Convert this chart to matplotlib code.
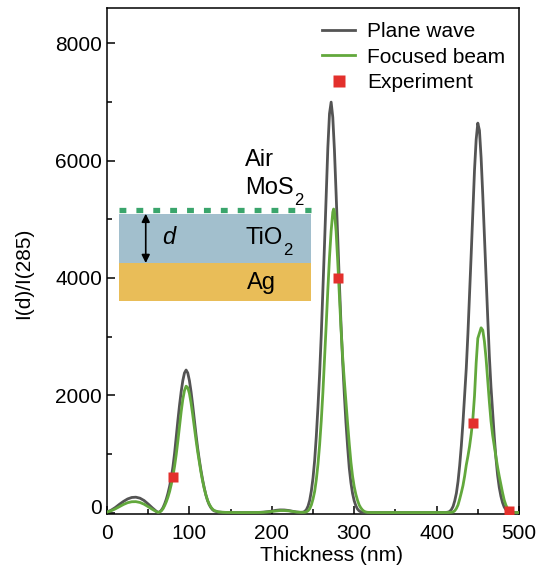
import matplotlib
matplotlib.use("Agg")
import matplotlib.pyplot as plt
from matplotlib.patches import Rectangle
from matplotlib.transforms import ScaledTranslation

plt.rcParams['font.family'] = ['Liberation Sans', 'DejaVu Sans']

# ---------------- data ----------------
thickness = [0, 5, 10, 15, 20, 25, 30, 35, 40, 45, 50, 55, 60,
             62, 64, 66, 68, 70, 72, 74, 76, 78, 80, 82, 84, 86, 88, 90, 92, 94, 96, 98,
             100, 102, 104, 106, 108, 110, 112, 114, 116, 118, 120, 122, 124, 126, 128, 130,
             135, 140, 145, 150, 155, 160, 165, 170, 175, 180, 185, 190, 195, 200, 205,
             210, 215, 220, 225, 230, 235,
             238, 240, 242, 244, 246, 248, 250, 252, 254, 256, 258, 260, 262, 264, 266,
             268, 270, 272, 274, 275, 276, 278, 280, 282, 284, 286, 288, 290, 292, 294,
             296, 298, 300, 302, 304, 306, 308, 310, 312, 314, 316,
             320, 325, 330, 335, 340, 345, 350, 355, 360, 365, 370, 375, 380, 385, 390,
             395, 400, 405, 410,
             412, 414, 416, 418, 420, 422, 424, 426, 428, 430, 432, 434, 436, 438, 440,
             442, 444, 446, 448, 450, 452, 454, 456, 458, 460, 462, 464, 466, 468, 470,
             472, 474, 476, 478, 480, 482, 484, 486, 488, 490, 492, 494, 496, 498, 500]

plane_wave = [10, 40, 85, 140, 190, 232, 257, 262, 245, 205, 145, 80, 20,
              2, 12, 40, 85, 150, 230, 330, 450, 600, 780, 1010, 1290, 1570, 1830, 2060, 2250, 2380, 2430, 2380,
              2250, 2060, 1830, 1580, 1330, 1100, 900, 720, 560, 420, 300, 205, 135, 85, 50, 28,
              10, 4, 2, 1, 0, 0, 0, 0, 0, 1, 3, 7, 15, 25, 38,
              45, 44, 36, 22, 9, 3,
              6, 20, 50, 110, 210, 370, 590, 890, 1300, 1800, 2360, 3020, 3780, 4585, 5430,
              6220, 6800, 6998, 6740, 6470, 6180, 5450, 4670, 3920, 3200, 2570, 2020, 1530, 1120, 760,
              510, 325, 200, 115, 60, 28, 12, 5, 2, 0, 0,
              0, 0, 0, 0, 0, 0, 0, 0, 0, 0, 0, 0, 0, 0, 0,
              0, 0, 0, 1,
              3, 8, 20, 52, 105, 200, 330, 530, 805, 1140, 1540, 1990, 2460, 3050, 3720,
              4415, 5145, 5840, 6360, 6640, 6515, 6050, 5420, 4715, 3995, 3335, 2670, 2140, 1710, 1290,
              930, 640, 430, 280, 170, 95, 50, 22, 9, 3, 1, 0, 0, 0, 0]

focused_beam = [8, 30, 62, 100, 138, 168, 184, 186, 172, 142, 100, 55, 14,
                3, 10, 30, 65, 120, 185, 265, 360, 480, 620, 790, 990, 1220, 1470, 1720, 1930, 2080, 2155, 2130,
                2030, 1870, 1670, 1450, 1240, 1040, 860, 690, 540, 410, 300, 210, 145, 95, 60, 35,
                12, 5, 2, 1, 0, 0, 0, 0, 0, 1, 2, 5, 11, 19, 28,
                34, 34, 29, 19, 9, 4,
                4, 5, 12, 30, 65, 130, 230, 360, 560, 820, 1150, 1560, 2050, 2620, 3200,
                3800, 4350, 4800, 5120, 5175, 5130, 4800, 4280, 3700, 3130, 2650, 2250, 1880, 1520, 1170,
                860, 620, 440, 310, 210, 130, 80, 45, 22, 10, 4,
                1, 0, 0, 0, 0, 0, 0, 0, 0, 0, 0, 0, 0, 0, 0,
                0, 0, 0, 0,
                0, 1, 2, 5, 10, 30, 70, 130, 230, 340, 460, 620, 810, 960, 1130,
                1340, 1600, 1990, 2550, 2970, 3060, 3150, 3110, 2920, 2630, 2260, 1890, 1560, 1320, 1130,
                950, 775, 620, 480, 340, 215, 130, 70, 35, 15, 5, 2, 0, 0, 0]

exp_thickness = [80, 280, 444.5, 488]
exp_values = [600, 4000, 1530, 25]

x_ticks = [0, 100, 200, 300, 400, 500]
y_ticks = [0, 2000, 4000, 6000, 8000]

# ---------------- figure ----------------
fig = plt.figure(figsize=(5.38, 5.70), dpi=100)
ax = fig.add_axes([0.1989, 0.0977, 0.7658, 0.888])

gray = '#545454'
green = '#62a83c'
red = '#e3302c'

ax.plot(thickness, plane_wave, color=gray, lw=2.0, label='Plane wave', zorder=3)
ax.plot(thickness, focused_beam, color=green, lw=2.0, label='Focused beam', zorder=4)
ax.plot(exp_thickness, exp_values, linestyle='none', marker='s', ms=6.5, color=red,
        mec='none', label='Experiment', zorder=5)

ax.set_xlim(0, 500)
ax.set_ylim(-30, 8600)
ax.set_xticks(x_ticks)
ax.set_yticks(y_ticks)
ax.set_xticks(range(0, 501, 50), minor=True)
ax.set_yticks(range(0, 8001, 1000), minor=True)
ax.tick_params(which='both', direction='in', top=False, right=False, labelsize=15, width=1.1)
ax.tick_params(which='major', length=6)
ax.tick_params(which='minor', length=3.5)
ax.tick_params(axis='x', pad=7)
for s in ax.spines.values():
    s.set_linewidth(1.1)

# raise the "0" y tick label slightly as in the reference
t0 = ax.yaxis.get_major_ticks()[0]
t0.label1.set_transform(t0.label1.get_transform() + ScaledTranslation(0, 4 / 72, fig.dpi_scale_trans))

ax.set_xlabel('Thickness (nm)', fontsize=15)
ax.set_ylabel('I(d)/I(285)', fontsize=15)
ax.xaxis.set_label_coords(0.544, -0.062)
ax.yaxis.set_label_coords(-0.18, 0.477)

leg = ax.legend(loc='upper left', bbox_to_anchor=(0.522, 0.972), frameon=False, fontsize=15,
                borderpad=0, borderaxespad=0, labelspacing=0.3, handlelength=1.6,
                handletextpad=0.55, markerscale=1.25)

# ---------------- inset schematic ----------------
ax.add_patch(Rectangle((14, 3611), 234, 643, facecolor='#e9bd58', edgecolor='none', zorder=1))
ax.add_patch(Rectangle((14, 4254), 234, 841, facecolor='#a2bfcd', edgecolor='none', zorder=1))
ax.plot([14, 248], [5158, 5158], color='#3aa56c', lw=3.8, linestyle=(0, (1.3, 1.9)),
        solid_capstyle='butt', dash_capstyle='butt', zorder=2)
ax.annotate('', xy=(47, 4254), xytext=(47, 5095),
            arrowprops=dict(arrowstyle='<|-|>', color='black', lw=1.2,
                            shrinkA=0, shrinkB=0, mutation_scale=12), zorder=2)
ax.text(75, 4697, 'd', fontsize=17, fontstyle='italic', ha='center', va='center', zorder=2)
ax.text(168, 6010, 'Air', fontsize=17, ha='left', va='center', zorder=2)
t_mos = ax.text(168, 5533, 'MoS', fontsize=17, ha='left', va='center', zorder=2)
t_tio = ax.text(168, 4680, 'TiO', fontsize=17, ha='left', va='center', zorder=2)
ax.text(170, 3913, 'Ag', fontsize=17, ha='left', va='center', zorder=2)
for t in (t_mos, t_tio):
    ax.annotate('2', xy=(1, 0), xycoords=t, xytext=(0.3, -1), textcoords='offset points',
                fontsize=12, ha='left', va='center', zorder=2)

fig.savefig('out.png', dpi=100)
